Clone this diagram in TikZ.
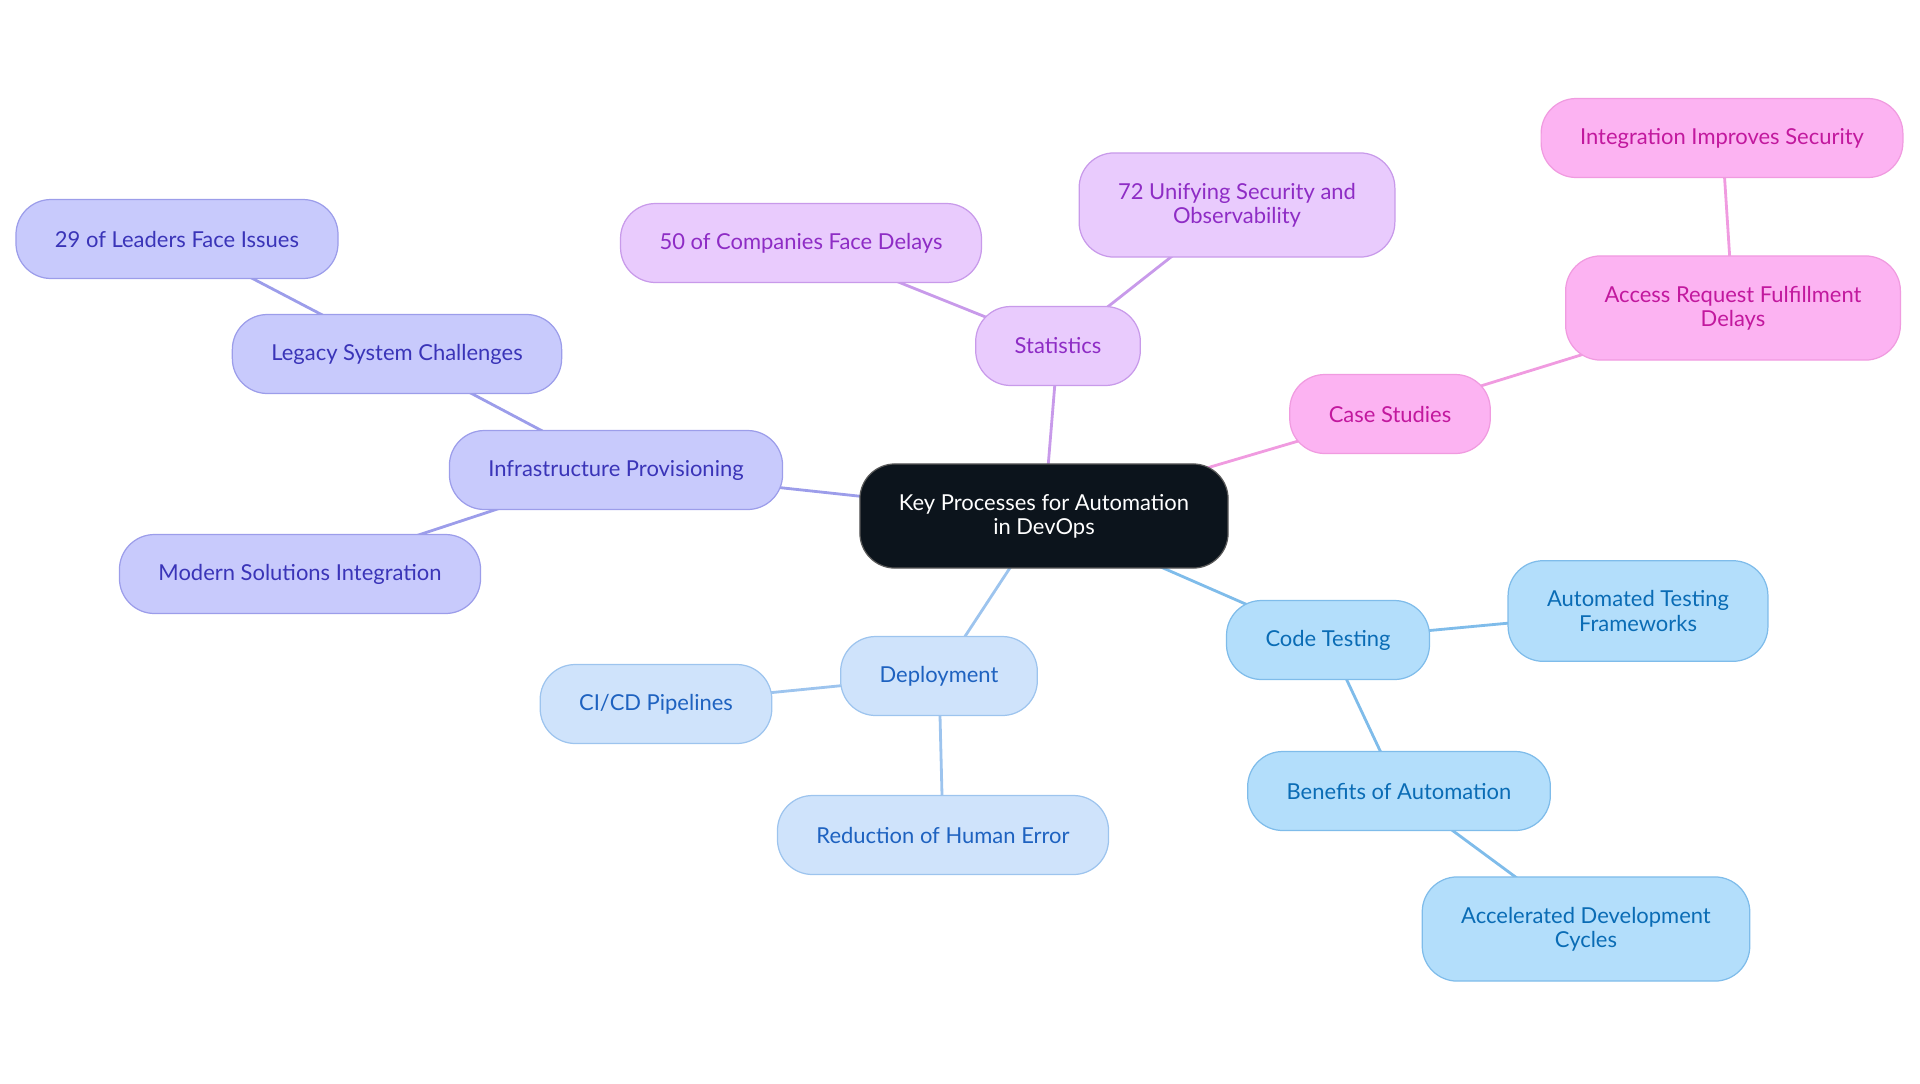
\documentclass[tikz,border=0pt]{standalone}
\usepackage{fontspec}
\setmainfont{Lato}
\usetikzlibrary{backgrounds}
\definecolor{rootfill}{HTML}{0C141C}
\definecolor{infrafill}{HTML}{C8CAFC}
\definecolor{infratext}{HTML}{3A34B8}
\definecolor{infraline}{HTML}{9C9DEA}
\definecolor{statfill}{HTML}{E9CBFD}
\definecolor{stattext}{HTML}{8E2CC5}
\definecolor{statline}{HTML}{C89AEA}
\definecolor{casefill}{HTML}{FCB3F2}
\definecolor{casetext}{HTML}{C2189E}
\definecolor{caseline}{HTML}{F09BE0}
\definecolor{depfill}{HTML}{CFE3FB}
\definecolor{deptext}{HTML}{1E62C0}
\definecolor{depline}{HTML}{9DC4EE}
\definecolor{testfill}{HTML}{B3DEFB}
\definecolor{testtext}{HTML}{0A6CB5}
\definecolor{testline}{HTML}{7FBCEA}
\tikzset{
  topic/.style={rounded corners=0.7cm,align=center,inner xsep=0.78cm,inner ysep=0.4cm,
    minimum height=1.58cm,line width=0.7pt,font=\fontsize{12.5}{13.8}\selectfont},
  twoline/.style={inner ysep=0.6cm},
  infrabox/.style={topic,fill=infrafill,draw=infraline,text=infratext},
  statbox/.style={topic,fill=statfill,draw=statline,text=stattext},
  casebox/.style={topic,fill=casefill,draw=caseline,text=casetext},
  depbox/.style={topic,fill=depfill,draw=depline,text=deptext},
  testbox/.style={topic,fill=testfill,draw=testline,text=testtext},
  link/.style={line width=1.6pt}
}
\begin{document}
\begin{tikzpicture}[x=0.02cm,y=-0.02cm]
  \useasboundingbox (0,0) rectangle (1920,1083);
  % centre
  \node[topic,twoline,fill=rootfill,draw=gray!70!black,text=white] (root) at (1044,516)
    {Key Processes for Automation\\in DevOps};
  % statistics
  \node[statbox] (stats) at (1058,346) {Statistics};
  \node[statbox] (fifty) at (801,243) {50 of Companies Face Delays};
  \node[statbox,twoline] (seventy) at (1237,205) {72 Unifying Security and\\Observability};
  % case studies
  \node[casebox] (cases) at (1390,414) {Case Studies};
  \node[casebox,twoline] (access) at (1733,308) {Access Request Fulfillment\\Delays};
  \node[casebox] (integr) at (1722,138) {Integration Improves Security};
  % infrastructure
  \node[infrabox] (infra) at (616,470) {Infrastructure Provisioning};
  \node[infrabox] (legacy) at (397,354) {Legacy System Challenges};
  \node[infrabox] (leaders) at (177,239) {29 of Leaders Face Issues};
  \node[infrabox] (modern) at (300,574) {Modern Solutions Integration};
  % deployment
  \node[depbox] (deploy) at (939,676) {Deployment};
  \node[depbox] (cicd) at (656,704) {CI/CD Pipelines};
  \node[depbox] (human) at (943,835) {Reduction of Human Error};
  % code testing
  \node[testbox] (testing) at (1328,640) {Code Testing};
  \node[testbox,twoline] (frameworks) at (1638,611) {Automated Testing\\Frameworks};
  \node[testbox] (benefits) at (1399,791) {Benefits of Automation};
  \node[testbox,twoline] (accel) at (1586,929) {Accelerated Development\\Cycles};
  \begin{scope}[on background layer]
    \draw[link,statline] (root.center) -- (stats.center);
    \draw[link,statline] (stats.center) -- (fifty.center);
    \draw[link,statline] (stats.center) -- (seventy.center);
    \draw[link,caseline] (root.center) -- (cases.center);
    \draw[link,caseline] (cases.center) -- (access.center);
    \draw[link,caseline] (access.center) -- (integr.center);
    \draw[link,infraline] (root.center) -- (infra.center);
    \draw[link,infraline] (infra.center) -- (legacy.center);
    \draw[link,infraline] (legacy.center) -- (leaders.center);
    \draw[link,infraline] (infra.center) -- (modern.center);
    \draw[link,depline] (root.center) -- (deploy.center);
    \draw[link,depline] (deploy.center) -- (cicd.center);
    \draw[link,depline] (deploy.center) -- (human.center);
    \draw[link,testline] (root.center) -- (testing.center);
    \draw[link,testline] (testing.center) -- (frameworks.center);
    \draw[link,testline] (testing.center) -- (benefits.center);
    \draw[link,testline] (benefits.center) -- (accel.center);
  \end{scope}
\end{tikzpicture}
\end{document}
